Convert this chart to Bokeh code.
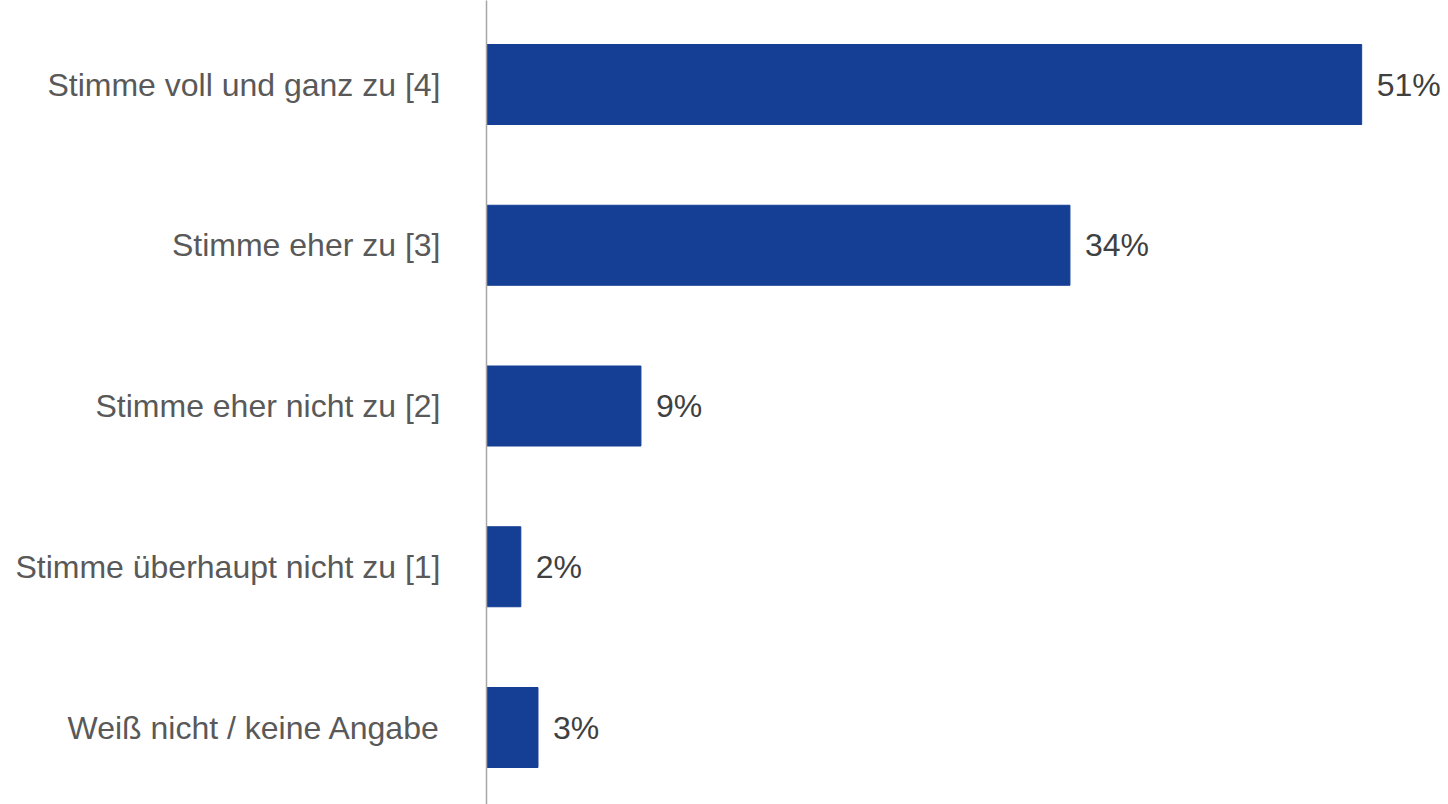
from bokeh.plotting import figure
from bokeh.models import Range1d, FixedTicker, ColumnDataSource
from bokeh.embed import file_html
from bokeh.resources import INLINE
from bokeh.core.properties import value

categories = [
    "Stimme voll und ganz zu [4]",
    "Stimme eher zu [3]",
    "Stimme eher nicht zu [2]",
    "Stimme überhaupt nicht zu [1]",
    "Weiß nicht / keine Angabe",
]
values = [51, 34, 9, 2, 3]
labels = ["51%", "34%", "9%", "2%", "3%"]

n = len(categories)
ypos = [n - 1 - i for i in range(n)]

src = ColumnDataSource(dict(y=ypos, v=values, lab=labels))

W, H = 1448, 804
LEFT = 486
px_per_unit = 17.16
band = 160.75

p = figure(width=W, height=H, output_backend="svg", toolbar_location=None,
           x_range=Range1d(0, (W - LEFT) / px_per_unit),
           y_range=Range1d(-(H - 727) / band, 4 + 84 / band),
           min_border_left=LEFT, min_border_right=0, min_border_top=0, min_border_bottom=0)

p.hbar(y="y", right="v", left=0, height=80 / band, source=src, color="#143F94")
p.text(x="v", y="y", text="lab", source=src, x_offset=15,
       text_font=value("Liberation Sans"), text_font_size="32px",
       text_color="#404040", text_baseline="middle", text_align="left")

p.xaxis.visible = False
p.xgrid.visible = False
p.ygrid.visible = False
p.outline_line_color = None

ax = p.yaxis[0]
ax.ticker = FixedTicker(ticks=ypos)
ax.major_label_overrides = {y: c for y, c in zip(ypos, categories)}
ax.major_tick_line_color = None
ax.minor_tick_line_color = None
ax.major_tick_out = 0
ax.major_tick_in = 0
ax.major_label_standoff = 46
ax.major_label_text_font = "Liberation Sans"
ax.major_label_text_font_size = "32px"
ax.major_label_text_color = "#595959"
ax.axis_line_color = "#A6A6A6"
ax.axis_line_width = 1.5

open("out.html", "w").write(file_html(p, INLINE))
